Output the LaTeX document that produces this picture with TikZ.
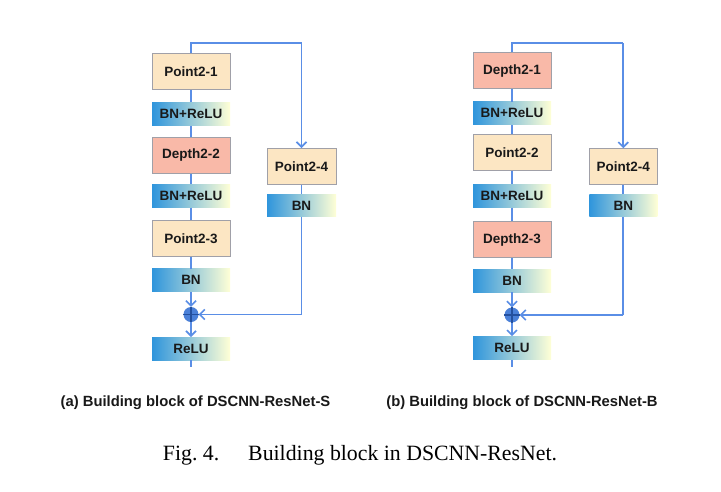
\documentclass[tikz,border=0pt]{standalone}
\usepackage{fontspec}
\setmainfont{Liberation Serif}
\newfontfamily\labfont{Liberation Sans}
\usetikzlibrary{arrows.meta,calc}
\definecolor{pointfill}{HTML}{FCE6C3}
\definecolor{depthfill}{HTML}{F9B9A8}
\definecolor{boxborder}{HTML}{A0A0A8}
\definecolor{linecol}{HTML}{5A8EE6}
\definecolor{bnleft}{HTML}{2F95DC}
\definecolor{bnmid}{HTML}{92C8D6}
\definecolor{bnright}{HTML}{FFFFD6}
\definecolor{sumfill}{HTML}{4A80D8}
\definecolor{sumline}{HTML}{24509E}
\tikzset{
  lab/.style={font=\labfont\bfseries\fontsize{13.5}{15}\selectfont, text=black!90, inner sep=0pt},
  pointbox/.style={lab, draw=boxborder, line width=1pt, fill=pointfill, minimum width=78pt, minimum height=36pt},
  depthbox/.style={lab, draw=boxborder, line width=1pt, fill=depthfill, minimum width=78pt, minimum height=36pt},
  bnbox/.style={lab, left color=bnleft, middle color=bnmid, right color=bnright, minimum width=78pt, minimum height=23pt},
  conn/.style={draw=linecol, line width=1.7pt},
  arr/.style={conn, -{Straight Barb[length=5pt,width=10pt,line width=1.6pt]}},
  sumnode/.style={circle, fill=sumfill, minimum size=15pt, inner sep=0pt},
  captext/.style={font=\labfont\bfseries\fontsize{14.8}{17}\selectfont, text=black!90, inner sep=0pt}
}
\begin{document}
\begin{tikzpicture}[x=1pt,y=-1pt]
\useasboundingbox[fill=white] (0,0) rectangle (721,491);
% ---------- panel (a)
\node[pointbox] (a1) at (191,71.7) {Point2-1};
\node[bnbox] (a2) at (191,114) {BN+ReLU};
\node[depthbox] (a3) at (191,155.3) {Depth2-2};
\node[bnbox] (a4) at (191,196) {BN+ReLU};
\node[pointbox] (a5) at (191,238.3) {Point2-3};
\node[bnbox] (a6) at (191,280.3) {BN};
\node[sumnode] (as) at (191,314.5) {};
\node[bnbox] (a7) at (191,348.7) {ReLU};
\node[pointbox, minimum width=69pt] (a8) at (301.5,166.5) {Point2-4};
\node[bnbox, minimum width=69pt, minimum height=22.5pt] (a9) at (301.5,205.5) {BN};
\coordinate (atl) at (191,43.3);
\coordinate (atr) at (301.5,43.3);
\coordinate (abr) at (301.5,314.5);
\coordinate (aend) at (191,367);
\draw[conn] (a1.north) -- (atl) -- (atr);
\draw[arr] (atr) -- (a8.north);
\draw[conn] (a1) -- (a2) (a2) -- (a3) (a3) -- (a4) (a4) -- (a5) (a5) -- (a6) (a8) -- (a9);
\draw[arr] (a6.south) -- (as.north);
\draw[arr] (as.south) -- (a7.north);
\draw[conn] (a7.south) -- (aend);
\draw[conn] (a9.south) -- (abr);
\draw[arr] (abr) -- (as.east);
\draw[sumline, line width=1.1pt] (as.north) -- (as.south) (as.west) -- (as.east);
\node[captext] (capa) at (195.5,403) {(a) Building block of DSCNN-ResNet-S};
% ---------- panel (b)
\node[depthbox] (b1) at (512,70.8) {Depth2-1};
\node[bnbox] (b2) at (512,113.4) {BN+ReLU};
\node[pointbox] (b3) at (512,152.2) {Point2-2};
\node[bnbox] (b4) at (512,196) {BN+ReLU};
\node[depthbox] (b5) at (512,239.7) {Depth2-3};
\node[bnbox] (b6) at (512,280.5) {BN};
\node[sumnode] (bs) at (512,315) {};
\node[bnbox] (b7) at (512,347.9) {ReLU};
\node[pointbox, minimum width=68pt] (b8) at (623.3,166.7) {Point2-4};
\node[bnbox, minimum width=68pt, minimum height=22.5pt] (b9) at (623.3,205.5) {BN};
\coordinate (btl) at (512,43.3);
\coordinate (btr) at (623.3,43.3);
\coordinate (bbr) at (623.3,315);
\coordinate (bend) at (512,366.7);
\draw[conn] (b1.north) -- (btl) -- (btr);
\draw[arr] (btr) -- (b8.north);
\draw[conn] (b1) -- (b2) (b2) -- (b3) (b3) -- (b4) (b4) -- (b5) (b5) -- (b6) (b8) -- (b9);
\draw[arr] (b6.south) -- (bs.north);
\draw[arr] (bs.south) -- (b7.north);
\draw[conn] (b7.south) -- (bend);
\draw[conn] (b9.south) -- (bbr);
\draw[arr] (bbr) -- (bs.east);
\draw[sumline, line width=1.1pt] (bs.north) -- (bs.south) (bs.west) -- (bs.east);
\node[captext] (capb) at (522,403) {(b) Building block of DSCNN-ResNet-B};
% ---------- figure caption
\node[font=\fontsize{21.8}{26}\selectfont, inner sep=0pt, anchor=base] (fig) at (360,460) {Fig.~4.\hspace{29pt}Building block in DSCNN-ResNet.};
\end{tikzpicture}
\end{document}
